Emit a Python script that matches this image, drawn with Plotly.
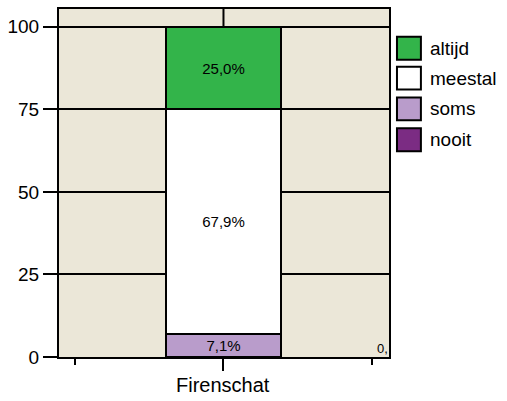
import plotly.graph_objects as go

categories = ["Firenschat"]
series_names = ["nooit", "soms", "meestal", "altijd"]
series_values = [0.0, 7.1, 67.9, 25.0]
series_colors = ["#7b2c83", "#b99ccb", "#ffffff", "#33b44a"]
legend_order = ["altijd", "meestal", "soms", "nooit"]
y_ticks = [0, 25, 50, 75, 100]

W, H = 507, 401
L, R, T, B = 58, 118, 7, 44
pw, ph = W - L - R, H - T - B
FONT = "Liberation Sans, Arial"

def px_x(x):
    return (x - L) / pw

def px_y(y):
    return (H - B - y) / ph

fig = go.Figure()
for name, val, col in zip(series_names, series_values, series_colors):
    fig.add_trace(go.Bar(
        x=[0], y=[val], name=name, width=0.778,
        marker=dict(color=col, line=dict(color="black", width=2)),
        text=[val] if val > 0 else None,
        texttemplate="%{y:.1f}%", textposition="inside",
        insidetextanchor="middle", textangle=0,
        textfont=dict(size=15, color="black", family=FONT),
        showlegend=False, hoverinfo="skip",
    ))

shapes = []
shapes.append(dict(type="line", xref="x", yref="y", x0=0, x1=0, y0=100, y1=105.4,
                   line=dict(color="black", width=2), layer="above"))
annotations = []
color_of = dict(zip(series_names, series_colors))
box_tops = [35, 65, 96, 127]
for name, top in zip(legend_order, box_tops):
    shapes.append(dict(type="rect", xref="paper", yref="paper",
                       x0=px_x(397), x1=px_x(421), y0=px_y(top + 23), y1=px_y(top),
                       fillcolor=color_of[name], line=dict(color="black", width=2)))
    annotations.append(dict(xref="paper", yref="paper", x=px_x(428), y=px_y(top + 11.5),
                            text=name, showarrow=False, xanchor="left", yanchor="middle",
                            font=dict(size=19, color="black", family=FONT)))
nooit_label = f"{series_values[0]:.1f}".replace(".", ",")[:2]
annotations.append(dict(xref="paper", yref="paper", x=px_x(390), y=px_y(348),
                        text=nooit_label, showarrow=False, xanchor="right", yanchor="middle",
                        font=dict(size=13, color="black", family=FONT)))
annotations.append(dict(xref="x", yref="paper", x=0, y=px_y(385),
                        text=categories[0], showarrow=False, xanchor="center", yanchor="middle",
                        font=dict(size=20, color="black", family=FONT)))

fig.update_layout(
    width=W, height=H,
    margin=dict(l=L, r=R, t=T, b=B),
    barmode="stack",
    paper_bgcolor="white",
    plot_bgcolor="#ebe7d8",
    separators=",.",
    font=dict(family=FONT, color="black"),
    shapes=shapes,
    annotations=annotations,
    showlegend=False,
)
fig.update_xaxes(
    range=[-1.107, 1.114], showgrid=False, zeroline=False,
    tickmode="array", tickvals=[0], ticktext=[""],
    ticks="outside", ticklen=12, tickwidth=2, tickcolor="black",
    minor=dict(tickmode="array", tickvals=[-1, 1], ticks="outside", ticklen=6,
               tickwidth=2, tickcolor="black", showgrid=False),
    showline=True, linecolor="black", linewidth=2, mirror=True,
)
fig.update_yaxes(
    range=[0, 105.4], tickmode="array", tickvals=y_ticks,
    ticks="outside", ticklen=14, tickwidth=2, tickcolor="black",
    tickfont=dict(size=19, color="black"),
    showgrid=True, gridcolor="black", gridwidth=1.5, zeroline=False,
    showline=True, linecolor="black", linewidth=2, mirror=True,
)
fig.write_html("out.html", config={"displayModeBar": False},
               post_script="document.body.style.margin='0';document.body.style.overflow='hidden';")
